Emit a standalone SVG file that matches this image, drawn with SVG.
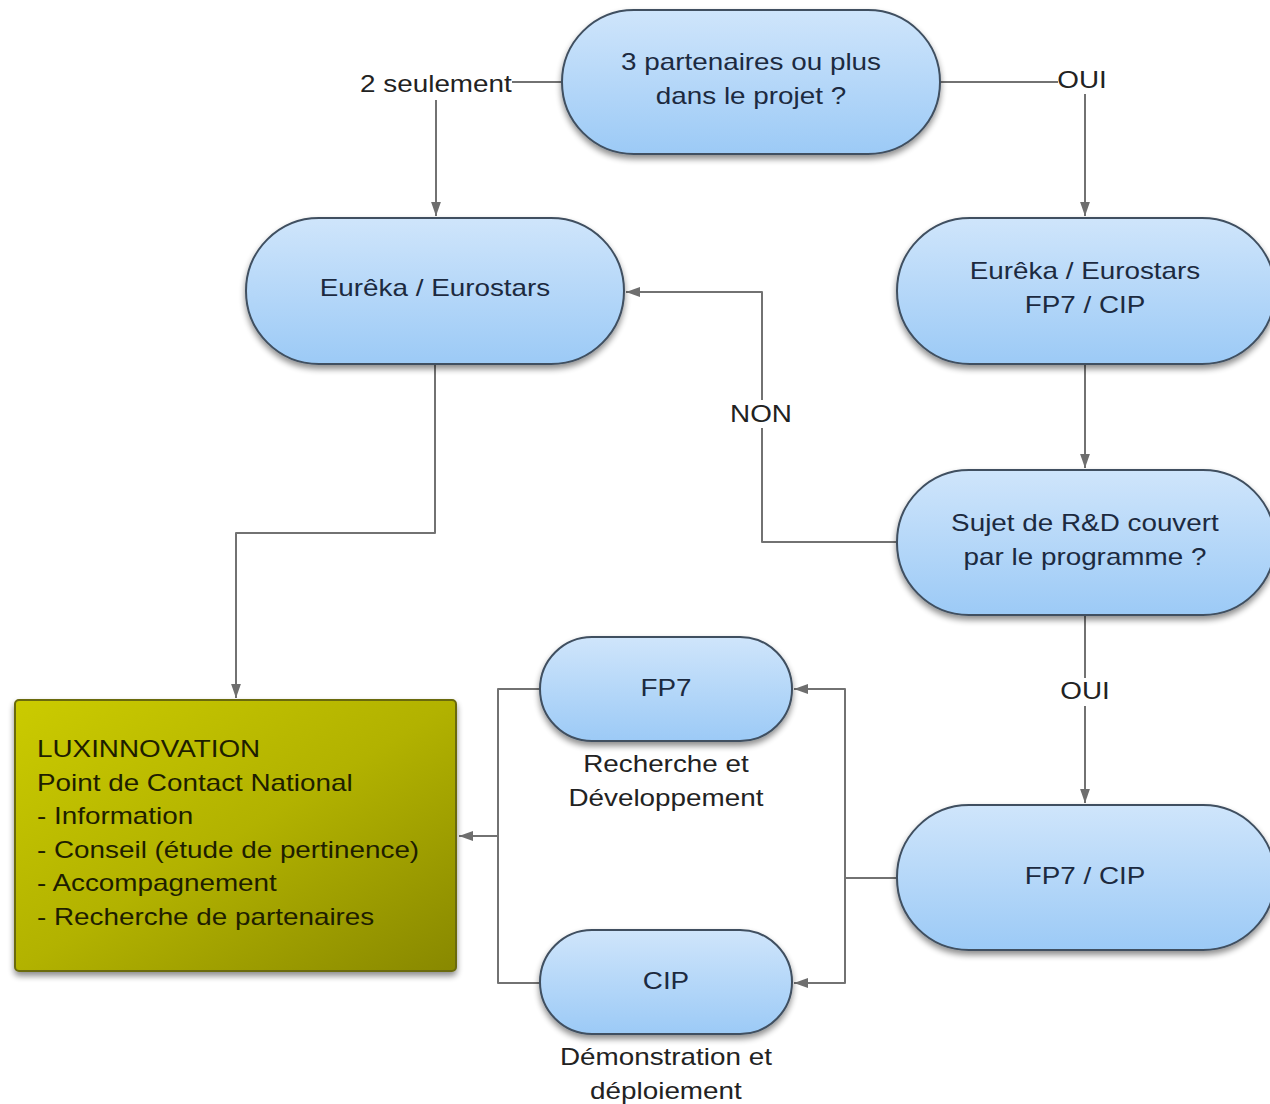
<svg xmlns="http://www.w3.org/2000/svg" width="1270" height="1104" viewBox="0 0 1270 1104">
<style>
.node{fill:url(#blue);stroke:#3f4f60;stroke-width:2;filter:url(#sh)}
text{transform-box:fill-box;transform:scaleX(1.16)}
.t{font-family:"Liberation Sans",Arial,sans-serif;font-size:24px;fill:#1c2a40;text-anchor:middle;transform-origin:center}
.l{font-family:"Liberation Sans",Arial,sans-serif;font-size:24px;fill:#222;text-anchor:middle;transform-origin:center}
.lx{font-family:"Liberation Sans",Arial,sans-serif;font-size:24px;fill:#1e1e00;transform-origin:left}
.c{fill:none;stroke:#727272;stroke-width:2;stroke-linejoin:round}
</style>
<defs>
<linearGradient id="blue" x1="0" y1="0" x2="0" y2="1">
<stop offset="0" stop-color="#cfe5fb"/>
<stop offset="1" stop-color="#9ccaf6"/>
</linearGradient>
<linearGradient id="olive" x1="0" y1="0" x2="1" y2="1">
<stop offset="0" stop-color="#cbcb00"/>
<stop offset="0.5" stop-color="#b2b200"/>
<stop offset="1" stop-color="#888800"/>
</linearGradient>
<filter id="sh" x="-10%" y="-10%" width="120%" height="130%">
<feGaussianBlur in="SourceAlpha" stdDeviation="3"/>
<feOffset dx="0" dy="4" result="b"/>
<feComponentTransfer><feFuncA type="linear" slope="0.45"/></feComponentTransfer>
<feMerge><feMergeNode/><feMergeNode in="SourceGraphic"/></feMerge>
</filter>
<marker id="arr2" viewBox="0 0 10 10" refX="10" refY="5" markerWidth="14" markerHeight="14" orient="auto" markerUnits="userSpaceOnUse">
<path d="M0,1.5 L10,5 L0,8.5 z" fill="#6e6e6e"/>
</marker>
</defs>
<rect width="1270" height="1104" fill="#ffffff"/>
<g id="connectors">
<path class="c" d="M562,82 H436 V216" marker-end="url(#arr2)"/>
<path class="c" d="M940,82 H1085 V216" marker-end="url(#arr2)"/>
<path class="c" d="M1085,364 V468" marker-end="url(#arr2)"/>
<path class="c" d="M897,542 H762 V292 H626" marker-end="url(#arr2)"/>
<path class="c" d="M1085,615 V803" marker-end="url(#arr2)"/>
<path class="c" d="M897,878 H845 V689 H794" marker-end="url(#arr2)"/>
<path class="c" d="M845,878 V983 H794" marker-end="url(#arr2)"/>
<path class="c" d="M540,689 H498 V983 H540"/>
<path class="c" d="M498,836 H459" marker-end="url(#arr2)"/>
<path class="c" d="M435,364 V533 H236 V698" marker-end="url(#arr2)"/>
<rect x="360" y="70" width="152" height="30" fill="#ffffff"/>
<text class="l" x="436" y="92">2 seulement</text>
<rect x="1058" y="66" width="48" height="28" fill="#ffffff"/>
<text class="l" x="1082" y="88">OUI</text>
<rect x="730" y="400" width="62" height="28" fill="#ffffff"/>
<text class="l" x="761" y="422">NON</text>
<rect x="1060" y="678" width="50" height="28" fill="#ffffff"/>
<text class="l" x="1085" y="699">OUI</text>
</g>
<g id="n-partenaires">
<rect class="node" x="562" y="10" width="378" height="144" rx="72"/>
<text class="t" x="751" y="70">3 partenaires ou plus</text>
<text class="t" x="751" y="104">dans le projet ?</text>
</g>
<g id="n-eureka">
<rect class="node" x="246" y="218" width="378" height="146" rx="73"/>
<text class="t" x="435" y="296">Eurêka / Eurostars</text>
</g>
<g id="n-eureka-fp7-cip">
<rect class="node" x="897" y="218" width="378" height="146" rx="73"/>
<text class="t" x="1085" y="279">Eurêka / Eurostars</text>
<text class="t" x="1085" y="313">FP7 / CIP</text>
</g>
<g id="n-sujet">
<rect class="node" x="897" y="470" width="378" height="145" rx="72"/>
<text class="t" x="1085" y="531">Sujet de R&amp;D couvert</text>
<text class="t" x="1085" y="565">par le programme ?</text>
</g>
<g id="n-fp7cip">
<rect class="node" x="897" y="805" width="378" height="145" rx="72"/>
<text class="t" x="1085" y="884">FP7 / CIP</text>
</g>
<g id="n-fp7">
<rect class="node" x="540" y="637" width="252" height="104" rx="52"/>
<text class="t" x="666" y="696">FP7</text>
<text class="l" x="666" y="772">Recherche et</text>
<text class="l" x="666" y="806">Développement</text>
</g>
<g id="n-cip">
<rect class="node" x="540" y="930" width="252" height="104" rx="52"/>
<text class="t" x="666" y="989">CIP</text>
<text class="l" x="666" y="1065">Démonstration et</text>
<text class="l" x="666" y="1099">déploiement</text>
</g>
<g id="n-luxinnovation">
<rect x="15" y="700" width="441" height="271" rx="4" fill="url(#olive)" stroke="#6a6a10" stroke-width="2" filter="url(#sh)"/>
<text class="lx" x="37" y="757">LUXINNOVATION</text>
<text class="lx" x="37" y="791">Point de Contact National</text>
<text class="lx" x="37" y="824">- Information</text>
<text class="lx" x="37" y="858">- Conseil (étude de pertinence)</text>
<text class="lx" x="37" y="891">- Accompagnement</text>
<text class="lx" x="37" y="925">- Recherche de partenaires</text>
</g>
</svg>
